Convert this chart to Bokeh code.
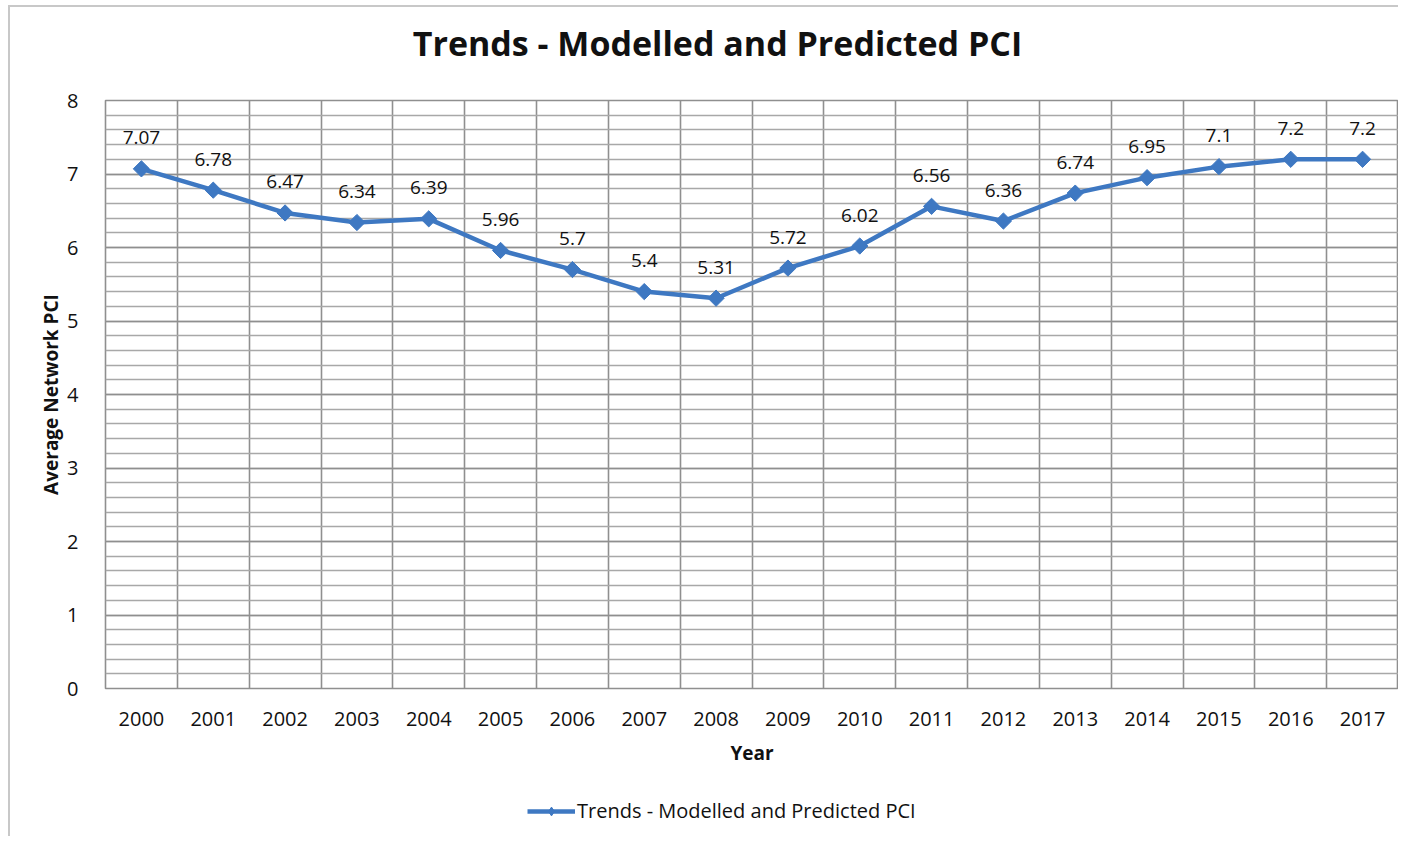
import math
from bokeh.plotting import figure
from bokeh.layouts import column
from bokeh.models import (Range1d, FixedTicker, SingleIntervalTicker, Legend, LegendItem,
                          ColumnDataSource, Label)
from bokeh.embed import file_html
from bokeh.resources import INLINE

years = ["2000", "2001", "2002", "2003", "2004", "2005", "2006", "2007", "2008",
         "2009", "2010", "2011", "2012", "2013", "2014", "2015", "2016", "2017"]
pci = [7.07, 6.78, 6.47, 6.34, 6.39, 5.96, 5.7, 5.4, 5.31,
       5.72, 6.02, 6.56, 6.36, 6.74, 6.95, 7.1, 7.2, 7.2]
labels = [str(v) for v in pci]
series_name = "Trends - Modelled and Predicted PCI"
title_text = "Trends - Modelled and Predicted PCI"
x_title = "Year"
y_title = "Average Network PCI"

FONT = "Open Sans"
BLUE = "#3e78c2"
GRID = "#8f8f8f"
MINOR = "#a8a8a8"
TXT = "#111111"

idx = list(range(len(years)))
src = ColumnDataSource(dict(x=idx, y=pci, lab=labels))

W = 1388


def strip(h):
    f = figure(width=W, height=h, output_backend="svg", toolbar_location=None,
               x_range=Range1d(-100, -99), y_range=Range1d(0, 1),
               x_axis_location=None, y_axis_location=None,
               min_border_left=0, min_border_right=0, min_border_top=0, min_border_bottom=0)
    f.grid.visible = False
    f.outline_line_color = None
    return f


# title strip
tp = strip(81)
tp.add_layout(Label(x=612, y=46, x_units="screen", y_units="screen", text=title_text,
                    text_align="center", text_baseline="alphabetic", text_font=FONT,
                    text_font_style="bold", text_font_size="34px", text_color=TXT))

p = figure(width=W, height=689, output_backend="svg", toolbar_location=None,
           x_range=Range1d(-0.5, len(years) - 0.5), y_range=Range1d(0, 8),
           min_border_left=95, min_border_right=0, min_border_top=12, min_border_bottom=89)

p.outline_line_color = GRID
p.outline_line_width = 1.6

p.xaxis.ticker = FixedTicker(ticks=idx)
p.xaxis.major_label_overrides = {i: y for i, y in zip(idx, years)}
p.xaxis.axis_label = x_title
p.yaxis.axis_label = y_title
for ax in (p.xaxis, p.yaxis):
    ax.axis_line_color = None
    ax.major_tick_line_color = None
    ax.minor_tick_line_color = None
    ax.major_label_text_font = FONT
    ax.major_label_text_font_size = "20px"
    ax.major_label_text_color = TXT
    ax.axis_label_text_font = FONT
    ax.axis_label_text_font_style = "bold"
    ax.axis_label_text_font_size = "19px"
    ax.axis_label_text_color = TXT
p.xaxis.major_label_standoff = 17
p.yaxis.major_label_standoff = 21
p.xaxis.axis_label_standoff = 11
p.yaxis.axis_label_standoff = 0

p.yaxis.ticker = SingleIntervalTicker(interval=1, num_minor_ticks=5)
p.ygrid.ticker = SingleIntervalTicker(interval=1, num_minor_ticks=5)
p.ygrid.grid_line_color = GRID
p.ygrid.grid_line_width = 1.6
p.ygrid.minor_grid_line_color = MINOR
p.ygrid.minor_grid_line_width = 1.3
p.xgrid.ticker = FixedTicker(ticks=[i - 0.5 for i in idx] + [len(years) - 0.5])
p.xgrid.grid_line_color = GRID
p.xgrid.grid_line_width = 1.6

LINE_W = 4.5
MK_SIZE = 11.5
p.line("x", "y", source=src, line_color=BLUE, line_width=LINE_W)
p.scatter("x", "y", source=src, marker="square", angle=math.pi / 4, size=MK_SIZE,
          fill_color=BLUE, line_color=BLUE)
p.text("x", "y", text="lab", source=src, text_align="center", text_baseline="middle",
       y_offset=-31, text_font={"value": FONT}, text_font_size="19px", text_color=TXT)

# legend strip below the chart: same series drawn out of view, legend shown in view
lg = strip(59)
l_ln = lg.line("x", "y", source=src, line_color=BLUE, line_width=LINE_W)
l_mk = lg.scatter("x", "y", source=src, marker="diamond", size=17,
                  fill_color=BLUE, line_color=BLUE)
legend = Legend(items=[LegendItem(label=series_name, renderers=[l_ln, l_mk])],
                orientation="horizontal", location=(422, 12),
                label_text_font=FONT, label_text_font_size="20px", label_text_color=TXT,
                glyph_width=48, glyph_height=22, border_line_color=None, background_fill_alpha=0,
                margin=0, padding=0, label_standoff=2)
lg.add_layout(legend, "center")

layout = column(tp, p, lg, spacing=0)
layout.styles = {"margin-left": "8px", "margin-top": "5px",
                 "border-left": "2px solid #c8c8c8", "border-top": "2px solid #c8c8c8"}

open("out.html", "w").write(file_html(layout, INLINE))
